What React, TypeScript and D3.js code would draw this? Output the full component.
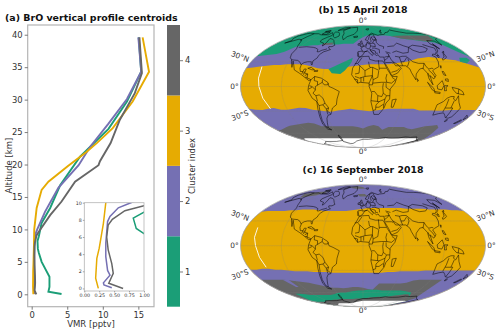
import React, { useEffect, useRef } from "react";
import * as d3 from "d3";

const GREEN = "#1b9e77";
const PURPLE = "#7570b3";
const YELLOW = "#e6ab02";
const GREY = "#666666";
const FONT = "'DejaVu Sans', sans-serif";

// profile centroids: [vmr pptv, altitude km]
const profile1: [number, number][] = [[4.2, 0.05], [2.35, 0.4], [2.5, 1.15], [2.5, 2.7], [1.4, 5], [1.0, 6.4], [0.87, 7], [0.82, 8.2], [1.0, 8.9], [1.4, 11], [2.6, 13.3], [4, 16.8], [6.8, 21.2], [10.8, 25.5], [13.4, 29.7], [15.4, 34.3], [15.05, 39.6]];
const profile2: [number, number][] = [[0.46, 0.07], [0.33, 0.4], [0.32, 0.65], [0.43, 1.55], [0.39, 2.1], [0.36, 3.7], [0.36, 5.3], [0.39, 7.8], [0.43, 8.4], [0.57, 9.4], [0.78, 10], [1.87, 12.7], [3.75, 16.4], [6.6, 19.9], [8.2, 22.7], [10.8, 26.3], [13.4, 30.1], [15.4, 34.3], [15.0, 39.6]];
const profile3: [number, number][] = [[0.235, 0], [0.19, 1.2], [0.21, 3.5], [0.25, 4.7], [0.32, 7.6], [0.36, 10], [0.7, 13.3], [1.4, 16.1], [2.35, 17.35], [5.15, 19.8], [7.65, 21.9], [9.15, 23.3], [11.4, 25.6], [14.2, 29.7], [16.5, 34.3], [15.6, 39.6]];
const profile4: [number, number][] = [[0.65, 0], [0.41, 0.6], [0.485, 1.75], [0.46, 2.9], [0.4, 4.5], [0.375, 6], [0.4, 7.4], [0.47, 8.05], [0.68, 9.07], [1.0, 9.65], [2.6, 12.2], [4.2, 14.3], [6.1, 17.35], [9.4, 19.9], [9.6, 20.5], [11.1, 23.3], [12.4, 26.9], [14.5, 31], [15.5, 34.1], [15.15, 39.6]];
const profiles = [
  { color: GREEN, values: profile1 },
  { color: PURPLE, values: profile2 },
  { color: YELLOW, values: profile3 },
  { color: GREY, values: profile4 },
];
const vmrTicks = [0, 5, 10, 15];
const altTicks = [0, 5, 10, 15, 20, 25, 30, 35, 40];
const insetVmrTicks = [0, 0.25, 0.5, 0.75, 1];
const insetAltTicks = [0, 2, 4, 6, 8, 10];
const clusterTicks = [1, 2, 3, 4];
const clusterColors = [GREEN, PURPLE, YELLOW, GREY];

// cluster maps: boundary latitude at every 10 deg of longitude from -180 to 180
const bandLons = d3.range(-180, 181, 10);
const aprilPurpleTop = [37, 38, 39, 40, 43, 50, 51, 51, 52, 52, 54, 54, 53, 53, 54, 54, 54, 60, 64, 67, 67, 67, 67, 67, 67, 66, 64, 62, 61, 60, 59, 58, 57, 56, 52, 42, 36];
const aprilYellowTop = [22, 23, 24, 25, 26, 26, 27, 27, 27, 26, 24, 22, 21, 21, 22, 23, 24, 25, 26, 27, 27, 27, 27, 28, 29, 30, 32, 34, 35, 36, 35, 34, 33, 32, 29, 26, 23];
const aprilPurpleLow = [-27, -28, -28.5, -27, -26, -28, -28, -27, -25.5, -26, -28, -29, -30, -30.5, -29, -28, -27, -28, -29, -30, -29, -28, -27, -27, -27, -27, -27, -29, -29, -29, -29.5, -29, -28.5, -28.5, -28.5, -28.5, -28.5];
const aprilGreyLow = [-56, -55, -53, -51, -49, -48, -47, -46, -45, -46, -50, -50, -50, -50, -50, -50, -50, -51, -53, -50, -48, -50, -55, -51, -51, -51, -51, -53, -54, -52, -50, -49, -48, -52, -62, -68, -72];
const aprilWhiteLow = [-74, -70, -68, -68, -68, -68, -68, -68, -68, -68, -68, -68, -68, -68, -68, -68, -68, -68, -68, -68, -68, -68, -68, -68, -68, -68, -68, -68, -68, -68, -68, -68, -68, -68, -72, -80, -86];
const septYellowTop = [42, 43, 43, 43, 43, 44, 44, 45, 45, 45, 44, 43, 43, 43, 43, 43, 44, 45, 46, 47, 47, 47, 47, 47, 47, 47, 46, 46, 46, 46, 45, 45, 45, 45, 44, 44, 43];
const septPurpleLow = [-29, -29, -28, -28, -29, -29, -30, -31, -31, -31, -32, -32, -32, -33, -33, -33, -33, -33, -33, -33, -33, -33, -32, -32, -31, -31, -31, -31, -30, -30, -30, -30, -30, -30, -30, -30, -30];
const septGreyLow = [-42, -42, -42, -42, -42, -43, -44, -45, -46, -48, -50, -52, -53, -53, -54, -53, -52, -52, -53, -55, -56, -47, -47, -47, -47, -47, -46, -43, -42, -42, -42, -42, -42, -70, -82, -86, -88];
const septGreenLow = [-75, -72, -62, -62, -63, -64, -64, -64, -64, -64, -64, -63, -61, -60, -60, -59, -58, -57, -57, -56, -56, -56, -57, -57, -57, -57, -57, -58, -59, -60, -66, -70, -72, -74, -86, -88, -88];
const septGrey2Low = [-75, -76, -76, -76, -76, -75, -74, -73, -73, -72, -72, -71, -71, -71, -71, -71, -70, -70, -70, -69, -68, -68, -67, -67, -67, -66, -65, -64, -63, -63, -66, -70, -72, -74, -86, -88, -88];
const septWhiteLow = [-84, -84, -84, -84, -83, -82, -81, -80, -79, -79, -79, -79, -79, -78, -77, -77, -76, -75, -74, -74, -74, -74, -74, -74, -74, -74, -74, -74, -74, -74, -74, -74, -74, -75, -86, -88, -88];

const aprilGreenBlob: [number, number][] = [[-53, 21], [-45, 24], [-35, 28], [-25, 32], [-17, 35], [-18, 30], [-21, 26], [-28, 19], [-34, 15], [-47, 16]];
const aprilGreenSmall: [number, number][] = [[156, 30], [165, 28], [174, 32], [172, 35], [160, 35]];
const aprilGreyPatch: [number, number][] = [[72, 66], [110, 67], [172, 67], [160, 60], [143, 57], [115, 60], [90, 62]];
const aprilGreyHudson: [number, number][] = [[-82, 55], [-62, 56], [-62, 53], [-80, 52]];
const septGreyPatch1: [number, number][] = [[-160, 68], [-130, 72], [-105, 72], [-120, 66], [-150, 62]];
const septGreyPatch2: [number, number][] = [[-60, 80], [-30, 84], [0, 82], [10, 78], [-30, 78]];
const septGreyPatch3: [number, number][] = [[-15, 68], [5, 68], [12, 64], [-8, 64]];
const septPurpleTongue: [number, number][] = [[-142, -42], [-133, -52], [-128, -52], [-132, -42]];

const aprilStreak: [number, number][] = [[-157, 24], [-155, 10], [-153, 0], [-150, -14], [-146, -27]];
const septStreak: [number, number][] = [[-162, 22], [-161, 10], [-158, 0], [-155, -14], [-152, -26]];

const coast: [number, number][][] = [
  [[-168, 66], [-162, 70], [-156, 71], [-140, 70], [-128, 70], [-115, 68], [-108, 68], [-95, 68], [-94, 72], [-85, 69], [-82, 67], [-88, 64], [-94, 60], [-92, 57], [-82, 55], [-80, 51], [-78, 52], [-77, 56], [-78, 62], [-70, 61], [-65, 59], [-60, 55], [-56, 52], [-60, 50], [-66, 50], [-65, 48], [-60, 46], [-66, 44], [-70, 43], [-74, 40], [-76, 37], [-76, 35], [-81, 31], [-80, 26], [-82, 27], [-83, 30], [-89, 30], [-94, 29], [-97, 27], [-97, 22], [-95, 18], [-91, 18], [-90, 21], [-87, 21], [-88, 16], [-83, 15], [-83, 10], [-79, 9], [-77, 8], [-80, 7], [-85, 10], [-92, 14], [-96, 16], [-105, 20], [-108, 25], [-113, 31], [-110, 23], [-115, 30], [-117, 33], [-121, 35], [-124, 40], [-124, 47], [-128, 51], [-134, 57], [-140, 60], [-148, 61], [-155, 58], [-163, 55], [-158, 59], [-165, 62], [-168, 66]],
  [[-77, 8], [-72, 12], [-62, 10], [-52, 5], [-50, 0], [-44, -2], [-35, -6], [-39, -15], [-41, -22], [-48, -26], [-53, -34], [-58, -35], [-62, -39], [-65, -45], [-69, -52], [-65, -55], [-72, -54], [-75, -47], [-73, -37], [-70, -18], [-76, -14], [-81, -5], [-80, 1], [-77, 8]],
  [[-6, 36], [10, 37], [11, 33], [20, 31], [32, 31], [34, 28], [37, 21], [43, 12], [51, 12], [47, 4], [40, -3], [40, -15], [35, -20], [33, -26], [26, -34], [18, -34], [12, -18], [13, -8], [9, 0], [9, 4], [-4, 5], [-8, 4], [-17, 14], [-16, 22], [-10, 30], [-6, 36]],
  [[-9, 37], [-9, 43], [-1, 44], [-4, 48], [3, 51], [8, 54], [9, 57], [11, 54], [20, 55], [24, 59], [30, 60], [22, 60], [21, 65], [17, 61], [18, 58], [13, 55], [10, 59], [5, 60], [12, 66], [25, 71], [40, 67], [44, 68], [60, 69], [68, 72], [80, 73], [100, 77], [113, 74], [130, 71], [150, 71], [170, 70], [180, 68], [178, 63], [165, 60], [157, 52], [156, 58], [142, 59], [137, 54], [141, 50], [135, 44], [129, 41], [128, 36], [126, 35], [125, 39], [121, 40], [118, 38], [122, 36], [121, 30], [118, 24], [110, 21], [106, 19], [109, 13], [105, 9], [100, 13], [103, 2], [98, 9], [97, 16], [92, 22], [87, 21], [80, 15], [78, 8], [73, 17], [72, 21], [67, 25], [57, 25], [52, 28], [48, 30], [51, 25], [56, 25], [59, 22], [52, 16], [43, 13], [39, 21], [35, 28], [35, 36], [28, 36], [26, 39], [23, 38], [20, 40], [13, 45], [18, 40], [16, 38], [8, 44], [3, 43], [0, 39], [-5, 36], [-9, 37]],
  [[-45, 60], [-52, 65], [-55, 70], [-70, 76], [-60, 82], [-30, 83], [-20, 75], [-25, 69], [-40, 65], [-45, 60]],
  [[-78, 73], [-68, 70], [-62, 66], [-68, 63], [-75, 65], [-85, 70], [-88, 73], [-78, 73]],
  [[-90, 76], [-75, 78], [-65, 82], [-80, 83], [-92, 81], [-90, 76]],
  [[-118, 72], [-105, 73], [-102, 69], [-115, 69], [-118, 72]],
  [[-125, 74], [-116, 76], [-110, 75], [-118, 74], [-125, 74]],
  [[-24, 65], [-14, 66], [-14, 64], [-22, 63.5], [-24, 65]],
  [[-5, 50], [1, 51], [-2, 56], [-3, 58.5], [-6, 57], [-3, 54], [-5, 52], [-5, 50]],
  [[-10, 52], [-6, 52], [-6, 55], [-10, 54], [-10, 52]],
  [[-85, 22], [-80, 23], [-74, 20], [-78, 20], [-85, 22]],
  [[-74, 19], [-69, 19.5], [-69, 18], [-74, 18], [-74, 19]],
  [[130, 32], [136, 34], [140, 36], [141, 41], [140, 41], [136, 36], [131, 34], [130, 32]],
  [[140, 42], [145, 44], [143, 42], [140, 42]],
  [[142, 54], [143, 47], [142, 47], [142, 54]],
  [[120, 22], [122, 25], [121, 25], [120, 22]],
  [[120, 18], [122, 18], [124, 13], [121, 14], [120, 18]],
  [[122, 9], [126, 9], [126, 6], [122, 7], [122, 9]],
  [[95, 5], [104, -2], [106, -6], [102, -4], [95, 5]],
  [[106, -6], [114, -7], [114, -8.5], [106, -7.5], [106, -6]],
  [[109, 1], [117, 7], [119, 1], [116, -4], [110, -3], [109, 1]],
  [[120, 1], [125, 1], [122, -1], [123, -5], [120, -5], [120, 1]],
  [[131, -1], [141, -3], [147, -6], [150, -10], [143, -9], [138, -8], [133, -4], [131, -1]],
  [[114, -22], [122, -18], [126, -14], [131, -12], [136, -12], [136, -15], [140, -17], [142, -11], [146, -19], [153, -26], [150, -37], [146, -39], [140, -38], [136, -35], [131, -32], [124, -33], [116, -35], [115, -31], [114, -22]],
  [[145, -41], [148, -41], [148, -43], [146, -43.5], [145, -41]],
  [[173, -35], [178, -38], [175, -41], [173, -35]],
  [[172, -41], [174, -42], [170, -46], [167, -46], [172, -41]],
  [[44, -16], [50, -15], [47, -25], [44, -25], [44, -16]],
  [[80, 9.5], [82, 7], [80.5, 6], [80, 9.5]],
  [[12, 79], [25, 80], [20, 77], [14, 77], [12, 79]],
  [[52, 71], [56, 75], [68, 77], [60, 75], [55, 71], [52, 71]],
  [[-180, -84], [-160, -80], [-155, -78], [-125, -74], [-100, -74], [-75, -73], [-62, -72], [-58, -65], [-60, -63], [-62, -66], [-66, -74], [-50, -78], [-40, -78], [-20, -73], [0, -70], [30, -69], [60, -67], [80, -68], [110, -66], [140, -66], [170, -72], [165, -78], [180, -84]],
];

const borders: [number, number][][] = [
  [[-123, 49], [-95, 49], [-89, 48], [-83, 46], [-82, 43], [-79, 43], [-75, 45], [-70, 46], [-67, 47]],
  [[-141, 70], [-141, 60], [-135, 58]],
  [[-117, 32.5], [-106, 31.7], [-101, 29.5], [-97, 26]],
  [[-92, 15], [-91, 18]], [[-89, 18], [-89, 14]], [[-83, 15], [-87, 13]], [[-83, 11], [-86, 11]],
  [[-72, 12], [-72, 7], [-67, 6], [-67, 1.5]],
  [[-79, 1], [-75, 0], [-70, -4], [-70, 0], [-67, 1.5], [-60, 5]],
  [[-70, -4], [-74, -8], [-70, -11], [-65, -10], [-60, -14], [-58, -20], [-55, -24], [-54, -26], [-57, -30], [-53, -33]],
  [[-60, 8], [-60, 5], [-57, 2], [-52, 2], [-51, 4]],
  [[-70, -18], [-68, -23], [-70, -33], [-72, -42], [-72, -50], [-69, -52]],
  [[-68, -23], [-62, -22], [-58, -20]], [[-62, -22], [-58, -27], [-54, -26]], [[-70, -11], [-69, -17], [-70, -18]],
  [[-80, -3], [-75, -1]], [[-58, -27], [-58, -34]],
  [[-2, 35], [-8, 28], [-13, 27.5]], [[-8, 27], [-5, 25], [3, 19], [12, 23]], [[9, 30], [10, 24], [12, 23]],
  [[25, 32], [25, 20]], [[25, 22], [36, 22]], [[24, 19.5], [15, 23], [12, 23]],
  [[-12, 15], [-6, 16], [-5, 25]], [[3, 12], [14, 13]], [[24, 19], [22, 11], [15, 8], [14, 13], [15, 23]],
  [[9, 4], [14, 13]], [[-12, 12], [-5, 10], [3, 12], [3, 19]], [[-3, 5], [-3, 11]], [[1, 6], [1, 11]],
  [[-13, 9], [-8, 8], [-8, 4]], [[15, 8], [14, 2], [9, 2]], [[14, 4], [27, 5], [35, 5], [42, 4]],
  [[36, 15], [34, 10], [35, 5]], [[42, 4], [48, 8], [43, 11]], [[13, -6], [17, -6], [22, -11], [28, -12], [30, -8], [29, -1], [30, 4]],
  [[34, 4], [34, -1], [40, -4.5]], [[30, -8], [35, -11], [40, -11]], [[12, -17], [23, -18], [25, -18]],
  [[22, -11], [22, -18]], [[25, -18], [33, -15], [35, -11]], [[33, -15], [32, -22], [32, -26]],
  [[20, -22], [20, -28], [16, -29]], [[20, -25], [25, -25], [30, -22], [32, -22]], [[20, -22], [25, -18]],
  [[-2, 43], [3, 43]], [[-9, 42], [-7, 37]], [[3, 43], [8, 44]], [[3, 51], [8, 47], [13, 47], [13.5, 45.5]],
  [[7, 54], [6, 50]], [[14, 54], [15, 51], [13, 48]], [[15, 51], [24, 50], [24, 54], [20, 55]],
  [[17, 48], [22, 48], [30, 46], [29, 41]], [[13, 46], [22, 44], [22, 41], [26, 41]],
  [[28, 70], [30, 60], [28, 56], [32, 52], [40, 50], [38, 47]], [[12, 60], [18, 68], [25, 69]], [[24, 66], [30, 62]],
  [[40, 43], [48, 41]], [[36, 36], [44, 37], [44, 40], [41, 41]], [[44, 38], [46, 33], [48, 30]], [[44, 37], [38, 33], [35, 32]],
  [[36, 29], [46, 29], [48, 28]], [[43, 17], [52, 19], [56, 22]],
  [[47, 50], [60, 51], [70, 55], [80, 51], [87, 49]], [[52, 42], [60, 44], [70, 41], [80, 42], [87, 49]], [[54, 37], [61, 36]],
  [[87, 49], [98, 52], [115, 50], [120, 47], [112, 43], [100, 42], [91, 45], [87, 49]],
  [[120, 53], [128, 50], [135, 48], [131, 43]], [[74, 36], [80, 30], [88, 28], [97, 28], [98, 24], [101, 21], [106, 22], [108, 21.5]],
  [[61, 30], [62, 25]], [[61, 30], [66, 30], [71, 34], [74, 36]], [[74, 34], [74, 30], [70, 25], [68, 24]],
  [[61, 36], [61, 30]], [[61, 36], [66, 37], [74, 37]], [[92, 21], [94, 24], [97, 28]],
  [[98, 16], [99, 12]], [[100, 20], [105, 15], [107, 11]], [[125, 40], [130, 42.5]], [[126, 38], [129, 38]],
  [[141, -3], [141, -9]], [[129, -15], [129, -31]], [[138, -17], [138, -26], [141, -26], [141, -38]], [[129, -26], [138, -26]],
];

// Mollweide is not in d3 core, so it is built with d3.geoProjection
function mollweideRaw(lambda: number, phi: number): [number, number] {
  let theta = phi;
  const k = Math.PI * Math.sin(phi);
  for (let i = 0; i < 30; i++) {
    const denom = 1 + Math.cos(2 * theta);
    if (denom < 1e-9) break;
    theta -= (2 * theta + Math.sin(2 * theta) - k) / (2 * denom);
  }
  return [(2 * Math.SQRT2 / Math.PI) * lambda * Math.cos(theta), Math.SQRT2 * Math.sin(theta)];
}

function drawMap(svg: any, id: string, cy: number, baseColor: string, layers: { color: string; lats: number[] }[], blobs: { color: string; pts: [number, number][] }[], streak: [number, number][]) {
  const cx = 363;
  const projection = d3.geoProjection(mollweideRaw).scale(43.3).translate([cx, cy]).precision(0.2);
  const path = d3.geoPath(projection);
  const pt = (p: [number, number]) => projection(p) as [number, number];
  const poly = d3.line().curve(d3.curveLinear);

  svg.append("clipPath").attr("id", id).append("path").attr("d", path({ type: "Sphere" } as any));
  const g = svg.append("g").attr("clip-path", `url(#${id})`);
  g.append("path").attr("d", path({ type: "Sphere" } as any)).attr("fill", baseColor);

  layers.forEach((layer) => {
    const edge = bandLons.map((lon, i) => pt([lon, layer.lats[i]]));
    const first = edge[0];
    const last = edge[edge.length - 1];
    const far = 400;
    g.append("path")
      .attr("d", poly([...edge, [cx + far, last[1]], [cx + far, cy + far], [cx - far, cy + far], [cx - far, first[1]]]) + "Z")
      .attr("fill", layer.color);
  });
  blobs.forEach((b) => {
    g.append("path").attr("d", poly(b.pts.map(pt)) + "Z").attr("fill", b.color);
  });
  g.append("path").attr("d", poly(streak.map(pt))).attr("fill", "none").attr("stroke", "#fff").attr("stroke-width", 0.9);

  const graticule = d3.geoGraticule().step([60, 30]).extent([[-180, -90], [180, 90.001]]);
  g.append("path").attr("d", path(graticule())).attr("fill", "none").attr("stroke", "#808080").attr("stroke-opacity", 0.35).attr("stroke-width", 0.6);
  g.append("path").attr("d", path({ type: "MultiLineString", coordinates: [...coast, ...borders] } as any)).attr("fill", "none").attr("stroke", "#000").attr("stroke-width", 0.5);
  svg.append("path").attr("d", path({ type: "Sphere" } as any)).attr("fill", "none").attr("stroke", "#aaa").attr("stroke-width", 0.8);

  const labels: [string, number, number, number][] = [
    ["0°", cx, cy - 66.5, 0], ["0°", cx, cy + 65, 0], ["0°", cx - 128.5, cy, 0], ["0°", cx + 128.5, cy, 0],
    ["30°N", cx - 123, cy - 30, 20], ["30°N", cx + 122.5, cy - 30, -20],
    ["30°S", cx - 123, cy + 29, -20], ["30°S", cx + 122.5, cy + 29, 20],
  ];
  labels.forEach(([t, x, y, r]) => {
    svg.append("text").attr("transform", `translate(${x},${y}) rotate(${r})`)
      .attr("text-anchor", "middle").attr("dominant-baseline", "central")
      .attr("font-size", 7.4).attr("fill", "#333").text(t);
  });
}

export default function App() {
  const ref = useRef<SVGSVGElement>(null);

  useEffect(() => {
    const svg = d3.select(ref.current);
    svg.selectAll("*").remove();
    svg.attr("font-family", FONT);

    // (a) profiles
    const x = d3.scaleLinear().domain([-0.56, 17.2]).range([27.7, 154]);
    const y = d3.scaleLinear().domain([-1.91, 41.5]).range([306.7, 25]);
    const line = d3.line<[number, number]>().x((d) => x(d[0])).y((d) => y(d[1]));

    const main = svg.append("g");
    profiles.forEach((p) => {
      main.append("path").attr("d", line(p.values)).attr("fill", "none").attr("stroke", p.color).attr("stroke-width", 1.9);
    });
    main.append("rect").attr("x", 27.7).attr("y", 25).attr("width", 126.3).attr("height", 281.7).attr("fill", "none").attr("stroke", "#b4b4b4").attr("stroke-width", 1.2);

    const axB = main.append("g").attr("transform", "translate(0,306.7)").call(d3.axisBottom(x).tickValues(vmrTicks).tickSize(3).tickPadding(2));
    const axL = main.append("g").attr("transform", "translate(27.7,0)").call(d3.axisLeft(y).tickValues(altTicks).tickSize(3).tickPadding(2));
    [axB, axL].forEach((a) => {
      a.select(".domain").remove();
      a.selectAll("line").attr("stroke", "#444").attr("stroke-width", 0.7);
      a.selectAll("text").attr("font-size", 8.4).attr("font-family", FONT).attr("fill", "#333");
    });
    main.append("text").attr("x", 91).attr("y", 327).attr("text-anchor", "middle").attr("font-size", 8.5).attr("fill", "#333").text("VMR [pptv]");
    main.append("text").attr("transform", "translate(11.5,165.5) rotate(-90)").attr("text-anchor", "middle").attr("font-size", 8.5).attr("fill", "#333").text("Altitude [km]");
    svg.append("text").attr("x", 5).attr("y", 21).attr("font-size", 9.45).attr("font-weight", "bold").attr("fill", "#111").text("(a) BrO vertical profile centroids");

    // inset, lower troposphere
    const ix = d3.scaleLinear().domain([0, 1]).range([84.3, 144]);
    const iy = d3.scaleLinear().domain([-0.3, 10]).range([291, 202.7]);
    const iline = d3.line<[number, number]>().x((d) => ix(d[0])).y((d) => iy(d[1]));
    const inset = svg.append("g");
    inset.append("rect").attr("x", 84.3).attr("y", 202.7).attr("width", 59.7).attr("height", 88.3).attr("fill", "#fff");
    inset.append("clipPath").attr("id", "insetClip").append("rect").attr("x", 84.3).attr("y", 202.7).attr("width", 59.7).attr("height", 88.3);
    const insetLines = inset.append("g").attr("clip-path", "url(#insetClip)");
    profiles.forEach((p) => {
      insetLines.append("path").attr("d", iline(p.values)).attr("fill", "none").attr("stroke", p.color).attr("stroke-width", 1.5);
    });
    inset.append("rect").attr("x", 84.3).attr("y", 202.7).attr("width", 59.7).attr("height", 88.3).attr("fill", "none").attr("stroke", "#b4b4b4").attr("stroke-width", 0.8);
    const iB = inset.append("g").attr("transform", "translate(0,291)").call(d3.axisBottom(ix).tickValues(insetVmrTicks).tickFormat(d3.format(".2f") as any).tickSize(1.5).tickPadding(1));
    const iL = inset.append("g").attr("transform", "translate(84.3,0)").call(d3.axisLeft(iy).tickValues(insetAltTicks).tickSize(1.5).tickPadding(1));
    [iB, iL].forEach((a) => {
      a.select(".domain").remove();
      a.selectAll("line").attr("stroke", "#555").attr("stroke-width", 0.5);
      a.selectAll("text").attr("font-size", 4.8).attr("font-family", FONT).attr("fill", "#333");
    });

    // colorbar
    const cb = d3.scaleLinear().domain([0.5, 4.5]).range([306.7, 25]);
    const bar = svg.append("g");
    clusterTicks.forEach((c, i) => {
      bar.append("rect").attr("x", 167).attr("width", 13).attr("y", cb(c + 0.5)).attr("height", cb(c - 0.5) - cb(c + 0.5)).attr("fill", clusterColors[i]);
    });
    const cbAxis = bar.append("g").attr("transform", "translate(180,0)").call(d3.axisRight(cb).tickValues(clusterTicks).tickFormat(d3.format("d") as any).tickSize(3).tickPadding(2));
    cbAxis.select(".domain").remove();
    cbAxis.selectAll("line").attr("stroke", "#444").attr("stroke-width", 0.7);
    cbAxis.selectAll("text").attr("font-size", 8.4).attr("font-family", FONT).attr("fill", "#333");
    bar.append("text").attr("transform", "translate(195,166) rotate(-90)").attr("text-anchor", "middle").attr("font-size", 8.5).attr("fill", "#333").text("Cluster index");

    // maps
    svg.append("text").attr("x", 363).attr("y", 12.5).attr("text-anchor", "middle").attr("font-size", 9.35).attr("font-weight", "bold").attr("fill", "#111").text("(b) 15 April 2018");
    svg.append("text").attr("x", 363).attr("y", 173).attr("text-anchor", "middle").attr("font-size", 9.35).attr("font-weight", "bold").attr("fill", "#111").text("(c) 16 September 2018");

    drawMap(svg, "mapB", 86.5, GREEN, [
      { color: PURPLE, lats: aprilPurpleTop },
      { color: YELLOW, lats: aprilYellowTop },
      { color: PURPLE, lats: aprilPurpleLow },
      { color: GREY, lats: aprilGreyLow },
      { color: "#ffffff", lats: aprilWhiteLow },
    ], [
      { color: GREEN, pts: aprilGreenBlob },
      { color: GREEN, pts: aprilGreenSmall },
      { color: GREY, pts: aprilGreyPatch },
      { color: GREY, pts: aprilGreyHudson },
    ], aprilStreak);

    drawMap(svg, "mapC", 245.7, PURPLE, [
      { color: YELLOW, lats: septYellowTop },
      { color: PURPLE, lats: septPurpleLow },
      { color: GREY, lats: septGreyLow },
      { color: GREEN, lats: septGreenLow },
      { color: GREY, lats: septGrey2Low },
      { color: "#ffffff", lats: septWhiteLow },
    ], [
      { color: GREY, pts: septGreyPatch1 },
      { color: GREY, pts: septGreyPatch2 },
      { color: GREY, pts: septGreyPatch3 },
      { color: PURPLE, pts: septPurpleTongue },
    ], septStreak);
  }, []);

  return <svg ref={ref} width={500} height={332} style={{ position: "absolute", left: 0, top: 0, background: "#fff" }} />;
}
